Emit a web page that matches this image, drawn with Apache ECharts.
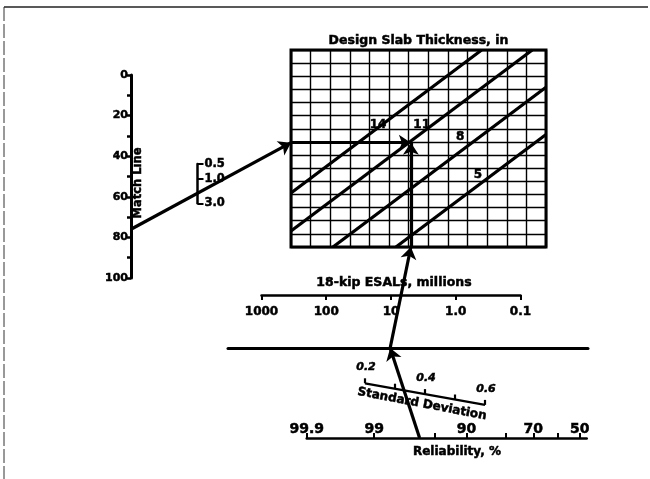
<!DOCTYPE html>
<html>
<head>
<meta charset="utf-8">
<script src="https://cdn.jsdelivr.net/npm/echarts@6/dist/echarts.min.js"></script>
<style>html,body{margin:0;padding:0;background:#fff}#c{width:650px;height:479px}</style>
</head>
<body>
<div id="c"></div>
<script>
const boxColumns = 13;
const boxRows = 15;
const thicknessLabels = ['14', '11', '8', '5'];
const thicknessStart = [[0, 4.11], [0, 1.22], [2.14, 0], [5.35, 0]];
const thicknessEnd = [[9.72, 15], [12.3, 15], [13, 12.16], [13, 8.57]];
const thicknessLabelAt = [[4.44, 9.29], [6.66, 9.29], [8.62, 8.4], [9.53, 5.48]];
const matchLineRange = [0, 100];
const matchLineStep = 10;
const matchLineLabelStep = 20;
const lossOfSupportRange = [0.5, 3.0];
const esalRange = [0.1, 1000];
const reliabilityTicks = [99.9, 99, 95, 90, 80, 70, 60, 50];
const reliabilityLabels = [99.9, 99, 90, 70, 50];
const stdDevRange = [0.2, 0.6];
const stdDevTicks = [0.2, 0.3, 0.4, 0.5, 0.6];
const stdDevLabels = [0.2, 0.4, 0.6];
const exampleReliability = 96.5;
const exampleStdDev = 0.33;
const exampleEsal = 7;
const exampleMatchLine = 76;
const exampleLossOfSupport = 1.9;

// ---------------- layout / style ----------------
const FONT = '"DejaVu Sans", "Liberation Sans", sans-serif';
const INK = '#000';
const SD_BASE_Y = 383.3;   // pixel y of the 0.2 end of the tilted std-dev scale
const SD_TILT = 0.18;      // tilt of the std-dev scale (dy per dx)
const HEAVY = { textBorderColor: '#000', textBorderWidth: 0.5 };

function probit(p) {
  const a = [-3.969683028665376e+01, 2.209460984245205e+02, -2.759285104469687e+02, 1.383577518672690e+02, -3.066479806614716e+01, 2.506628277459239e+00];
  const b = [-5.447609879822406e+01, 1.615858368580409e+02, -1.556989798598866e+02, 6.680131188771972e+01, -1.328068155288572e+01];
  const c = [-7.784894002430293e-03, -3.223964580411365e-01, -2.400758277161838e+00, -2.549732539343734e+00, 4.374664141464968e+00, 2.938163982698783e+00];
  const d = [7.784695709041462e-03, 3.224671290700398e-01, 2.445134137142996e+00, 3.754408661907416e+00];
  const pl = 0.02425, ph = 1 - pl;
  let q, r;
  if (p < pl) { q = Math.sqrt(-2 * Math.log(p)); return (((((c[0]*q+c[1])*q+c[2])*q+c[3])*q+c[4])*q+c[5]) / ((((d[0]*q+d[1])*q+d[2])*q+d[3])*q+1); }
  if (p <= ph) { q = p - 0.5; r = q*q; return (((((a[0]*r+a[1])*r+a[2])*r+a[3])*r+a[4])*r+a[5])*q / (((((b[0]*r+b[1])*r+b[2])*r+b[3])*r+b[4])*r+1); }
  q = Math.sqrt(-2 * Math.log(1 - p));
  return -(((((c[0]*q+c[1])*q+c[2])*q+c[3])*q+c[4])*q+c[5]) / ((((d[0]*q+d[1])*q+d[2])*q+d[3])*q+1);
}
const relTickZ = reliabilityTicks.map(r => probit(r / 100));
const relLabelZ = reliabilityLabels.map(r => probit(r / 100));
const relZMax = probit(reliabilityTicks[0] / 100);

const chart = echarts.init(document.getElementById('c'), null, { renderer: 'canvas', width: 650, height: 479 });

const baseGrid = { outerBoundsMode: 'none', containLabel: false };
const grids = [
  Object.assign({ left: 291, top: 50, width: 255, height: 197, show: true, borderColor: INK, borderWidth: 3, backgroundColor: 'transparent' }, baseGrid), // 0 thickness box
  Object.assign({ left: 131, top: 75, width: 1, height: 203 }, baseGrid),          // 1 match line
  Object.assign({ left: 197.5, top: 164, width: 1, height: 39.3 }, baseGrid),      // 2 loss of support
  Object.assign({ left: 261.5, top: 250, width: 259, height: 45 }, baseGrid),      // 3 ESAL
  Object.assign({ left: 306.7, top: 438, width: 280, height: 20 }, baseGrid),      // 4 reliability
  Object.assign({ left: 365, top: 383, width: 120, height: 1 }, baseGrid),         // 5 std dev (horizontal reference)
  Object.assign({ left: 228, top: 340, width: 360, height: 8 }, baseGrid),         // 6 turning line
  Object.assign({ left: 0, top: 0, width: 650, height: 479 }, baseGrid)            // 7 overlay (pixels)
];

const hiddenAxis = (g, min, max, extra) => Object.assign({ gridIndex: g, type: 'value', min: min, max: max, show: false }, extra || {});
const labelStyle = (size, extra) => Object.assign({ color: INK, fontFamily: FONT, fontWeight: 'bold', fontSize: size }, HEAVY, extra || {});

const xAxes = [
  { gridIndex: 0, type: 'value', min: 0, max: boxColumns, interval: 1,
    axisLine: { show: false }, axisTick: { show: false }, axisLabel: { show: false },
    splitLine: { show: true, lineStyle: { color: '#000', width: 1.4 } } },
  hiddenAxis(1, 0, 1),
  hiddenAxis(2, 0, 1),
  { gridIndex: 3, type: 'log', logBase: 10, min: esalRange[0], max: esalRange[1], inverse: true, position: 'bottom',
    axisLine: { show: true, onZero: false, lineStyle: { color: INK, width: 2.5 } },
    axisTick: { show: true, length: 5, lineStyle: { color: INK, width: 2 } },
    minorTick: { show: false }, splitLine: { show: false },
    axisLabel: Object.assign(labelStyle(12), { margin: 11, formatter: v => v >= 10 ? String(Math.round(v)) : v.toFixed(1) }) },
  { gridIndex: 4, type: 'value', min: -0.08, max: relZMax, inverse: true, position: 'top',
    axisLine: { show: true, onZero: false, lineStyle: { color: INK, width: 2.5 } },
    axisTick: { show: true, length: 5, customValues: relTickZ, lineStyle: { color: INK, width: 2 } },
    splitLine: { show: false },
    axisLabel: Object.assign(labelStyle(14), { margin: 2, customValues: relLabelZ,
      formatter: v => { const i = relLabelZ.findIndex(z => Math.abs(z - v) < 1e-6); return i >= 0 ? String(reliabilityLabels[i]) : ''; } }) },
  hiddenAxis(5, stdDevRange[0], stdDevRange[1]),
  { gridIndex: 6, type: 'value', min: 0, max: 1,
    axisLine: { show: true, onZero: false, lineStyle: { color: INK, width: 3 } },
    axisTick: { show: false }, axisLabel: { show: false }, splitLine: { show: false } },
  hiddenAxis(7, 0, 650)
];

const yAxes = [
  { gridIndex: 0, type: 'value', min: 0, max: boxRows, interval: 1,
    axisLine: { show: false }, axisTick: { show: false }, axisLabel: { show: false },
    splitLine: { show: true, lineStyle: { color: '#000', width: 1.4 } } },
  { gridIndex: 1, type: 'value', min: matchLineRange[0], max: matchLineRange[1], interval: matchLineStep, inverse: true, position: 'left',
    axisLine: { show: true, onZero: false, lineStyle: { color: INK, width: 3 } },
    axisTick: { show: true, length: 4, lineStyle: { color: INK, width: 2.5 } },
    splitLine: { show: false },
    axisLabel: Object.assign(labelStyle(11), { margin: 3, formatter: v => v % matchLineLabelStep === 0 ? String(v) : '' }) },
  { gridIndex: 2, type: 'log', logBase: 10, min: lossOfSupportRange[0], max: lossOfSupportRange[1], inverse: true, position: 'left',
    axisLine: { show: true, onZero: false, lineStyle: { color: INK, width: 2.5 } },
    axisTick: { show: true, inside: true, length: 6, lineStyle: { color: INK, width: 2 } },
    minorTick: { show: false }, splitLine: { show: false },
    axisLabel: Object.assign(labelStyle(11.5), { inside: true, margin: 7, formatter: v => Number(v).toFixed(1) }) },
  hiddenAxis(3, 0, 1),
  hiddenAxis(4, 0, 1),
  hiddenAxis(5, 0, 1),
  hiddenAxis(6, 0, 1),
  hiddenAxis(7, 0, 479, { inverse: true })
];

const boxSeries = [];
thicknessStart.forEach((s, i) => {
  boxSeries.push({ type: 'line', xAxisIndex: 0, yAxisIndex: 0, data: [s, thicknessEnd[i]], symbol: 'none', silent: true,
    lineStyle: { color: INK, width: 3.2 }, z: 3 });
});
boxSeries.push({ type: 'scatter', xAxisIndex: 0, yAxisIndex: 0, symbolSize: 1, silent: true, z: 4,
  itemStyle: { opacity: 0 },
  data: thicknessLabelAt,
  label: Object.assign({ show: true, position: 'inside', opacity: 1, formatter: p => thicknessLabels[p.dataIndex], color: INK, fontFamily: FONT, fontWeight: 'bold', fontSize: 12 }, HEAVY) });

const tstyle = (text, font) => ({ text: text, font: font, fill: INK, stroke: INK, lineWidth: 0.5, align: 'center', verticalAlign: 'middle', textAlign: 'center', textVerticalAlign: 'middle' });
const texts = [
  { type: 'text', x: 418.5, y: 41, style: tstyle('Design Slab Thickness, in', 'bold 12.5px ' + FONT) },
  { type: 'text', x: 138, y: 183, rotation: Math.PI / 2, style: tstyle('Match Line', 'bold 11.5px ' + FONT) },
  { type: 'text', x: 394, y: 283, style: tstyle('18-kip ESALs, millions', 'bold 12.5px ' + FONT) },
  { type: 'text', x: 422, y: 404, rotation: -0.19, style: tstyle('Standard Deviation', 'bold 12px ' + FONT) },
  { type: 'text', x: 457, y: 452, style: tstyle('Reliability, %', 'bold 12px ' + FONT) },
  { type: 'line', shape: { x1: 4, y1: 7, x2: 648, y2: 7 }, style: { stroke: '#222', lineWidth: 1.5 } },
  { type: 'line', shape: { x1: 4, y1: 7, x2: 4, y2: 479 }, style: { stroke: '#333', lineWidth: 1, lineDash: [14, 3] } }
];

chart.setOption({
  animation: false,
  backgroundColor: '#fff',
  grid: grids,
  xAxis: xAxes,
  yAxis: yAxes,
  graphic: texts,
  series: boxSeries
});

// ---------------- solution path through the library's scales ----------------
const px = (g, v) => chart.convertToPixel({ gridIndex: g }, v);
const sdX0 = px(5, [stdDevRange[0], 0])[0];
const sdPoint = v => { const x = px(5, [v, 0])[0]; return [x, SD_BASE_Y + SD_TILT * (x - sdX0)]; };

const R = px(4, [probit(exampleReliability / 100), 1]);
const S = sdPoint(exampleStdDev);
const turnY = px(6, [0, 0])[1];
const tT = (turnY - R[1]) / (S[1] - R[1]);
const T = [R[0] + tT * (S[0] - R[0]), turnY];
const E = px(3, [exampleEsal, 0]);
const boxBottomLeft = px(0, [0, 0]);
const tB = (boxBottomLeft[1] - T[1]) / (E[1] - T[1]);
const B = [T[0] + tB * (E[0] - T[0]), boxBottomLeft[1]];
const M = px(1, [0, exampleMatchLine]);
const L = px(2, [0, exampleLossOfSupport]);
const tN = (boxBottomLeft[0] - M[0]) / (L[0] - M[0]);
const N = [boxBottomLeft[0], M[1] + tN * (L[1] - M[1])];
const I = [B[0], N[1]];

const arrowSeries = {
  type: 'lines', coordinateSystem: 'cartesian2d', xAxisIndex: 7, yAxisIndex: 7, silent: true, z: 6,
  symbol: ['none', 'arrow'], symbolSize: 12,
  lineStyle: { color: INK, width: 3.2, opacity: 1 },
  data: [[M, N], [N, I], [R, T], [T, B], [B, I]].map(c => ({ coords: c }))
};

const sdLines = [[sdPoint(stdDevRange[0]), sdPoint(stdDevRange[1])]];
stdDevTicks.forEach(v => { const p = sdPoint(v); sdLines.push([p, [p[0], p[1] - 5]]); });
const sdScaleSeries = {
  type: 'lines', coordinateSystem: 'cartesian2d', xAxisIndex: 7, yAxisIndex: 7, silent: true, z: 5,
  symbol: 'none', lineStyle: { color: INK, width: 2.2, opacity: 1 },
  data: sdLines.map(c => ({ coords: c }))
};
const sdLabelSeries = {
  type: 'scatter', xAxisIndex: 7, yAxisIndex: 7, symbolSize: 1, silent: true, z: 5,
  itemStyle: { opacity: 0 },
  data: stdDevLabels.map(v => sdPoint(v)),
  label: Object.assign({ show: true, position: 'inside', opacity: 1, offset: [1, -16], formatter: p => stdDevLabels[p.dataIndex].toFixed(1),
    color: INK, fontFamily: FONT, fontWeight: 'bold', fontStyle: 'italic', fontSize: 11 }, HEAVY)
};

chart.setOption({ series: boxSeries.concat([arrowSeries, sdScaleSeries, sdLabelSeries]) });
</script>
</body>
</html>
